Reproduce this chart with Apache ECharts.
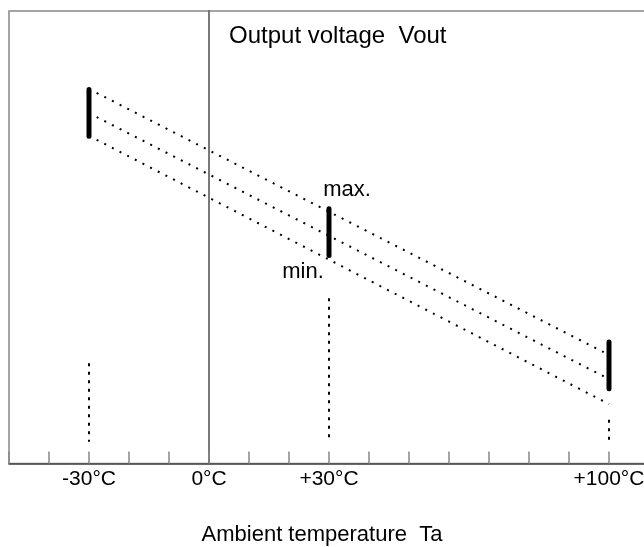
<!DOCTYPE html>
<html>
<head>
<meta charset="utf-8">
<script src="https://cdn.jsdelivr.net/npm/echarts@6/dist/echarts.min.js"></script>
<style>html,body{margin:0;padding:0;background:#fff}#c{width:644px;height:547px}</style>
</head>
<body>
<div id="c"></div>
<script>
// Temperatures (°C) and output voltage (arbitrary units)
var tempTicks = [-30, 0, 30, 100];
var tickLabels = ['-30°C', '0°C', '+30°C', '+100°C'];
var lineTemps = [-30, 100];
var upperLine = [8.32, 2.59];
var midLine = [7.80, 2.07];
var lowerLine = [7.31, 1.53];
var barTemps = [-30, 30, 100];
var barLow = [7.30, 4.73, 1.86];
var barHigh = [8.31, 5.74, 2.87];
var guideTop = [2.41, 3.81, 1.19];
var guideBottom = [0.72, 0.72, 0.72];
var noteTexts = ['max.', 'min.'];
var noteTemps = [34.5, 23.5];
var noteValues = [6.14, 4.38];
var yTitle = 'Output voltage  Vout';
var xTitle = 'Ambient temperature  Ta';

var FONT = 'Liberation Sans, Arial, sans-serif';
var series = [];
[upperLine, midLine, lowerLine].forEach(function (arr) {
  series.push({
    type: 'line', symbol: 'none', silent: true,
    data: lineTemps.map(function (t, i) { return [t, arr[i]]; }),
    lineStyle: { color: '#000', width: 2, type: [2, 6.6] }
  });
});
barTemps.forEach(function (t, i) {
  series.push({
    type: 'line', symbol: 'none', silent: true,
    data: [[t, barLow[i]], [t, barHigh[i]]],
    lineStyle: { color: '#000', width: 5, cap: 'round' }
  });
  series.push({
    type: 'line', symbol: 'none', silent: true,
    data: [[t, guideTop[i]], [t, guideBottom[i]]],
    lineStyle: { color: '#000', width: 2, type: [3, 5.5] }
  });
});
// 0°C reference line
series.push({
  type: 'line', symbol: 'none', silent: true,
  data: [[0, 0.25], [0, 10]],
  lineStyle: { color: '#808080', width: 1.5 }
});
series.push({
  type: 'scatter', symbolSize: 0, silent: true,
  itemStyle: { opacity: 1 },
  data: noteTexts.map(function (s, i) { return { value: [noteTemps[i], noteValues[i]], name: s }; }),
  label: { show: true, position: 'inside', formatter: '{b}', color: '#000', opacity: 1, fontSize: 22, fontFamily: FONT }
});

var chart = echarts.init(document.getElementById('c'), null, { renderer: 'canvas' });
chart.setOption({
  animation: false,
  backgroundColor: '#fff',
  title: [
    { text: yTitle, left: 224, top: 19, textStyle: { fontSize: 24, fontWeight: 'normal', color: '#000', fontFamily: FONT } },
    { text: xTitle, left: 'center', top: 519, textStyle: { fontSize: 22, fontWeight: 'normal', color: '#000', fontFamily: FONT } }
  ],
  grid: { left: 9, top: 11, width: 640, height: 452.5, containLabel: false, outerBoundsMode: 'none',
          show: true, borderColor: '#888', borderWidth: 1.5, backgroundColor: 'transparent' },
  xAxis: {
    type: 'value', min: -50, max: 110, interval: 10,
    axisLine: { show: true, onZero: false, lineStyle: { color: '#444', width: 1.5 } },
    axisTick: { show: true, inside: true, length: 12, lineStyle: { color: '#888', width: 1.5 } },
    splitLine: { show: false },
    axisLabel: {
      margin: 5, fontSize: 21, color: '#000', fontFamily: FONT,
      formatter: function (v) { var k = tempTicks.indexOf(v); return k >= 0 ? tickLabels[k] : ''; }
    }
  },
  yAxis: {
    type: 'value', min: 0.25, max: 10,
    axisLine: { show: true, lineStyle: { color: '#333', width: 1.5 } },
    axisTick: { show: false }, axisLabel: { show: false }, splitLine: { show: false }
  },
  series: series
});
</script>
</body>
</html>
